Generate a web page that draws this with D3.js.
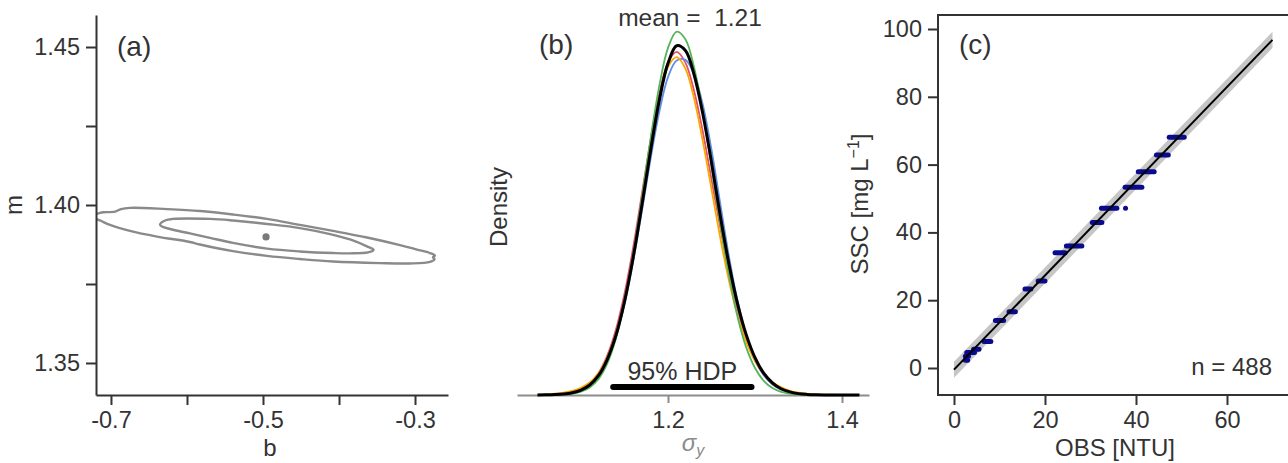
<!DOCTYPE html>
<html>
<head>
<meta charset="utf-8">
<script src="https://cdn.jsdelivr.net/npm/d3@7"></script>
<style>
  html, body { margin: 0; padding: 0; background: #fff; }
  svg { display: block; }
  text { font-family: "Liberation Sans", Arial, sans-serif; fill: #333; }
</style>
</head>
<body>
<svg id="fig" width="1288" height="463"></svg>
<script>
// ---------- (a) joint posterior of intercept b and slope m ----------
const bTicks = [-0.7, -0.6, -0.5, -0.4, -0.3];
const bTickLabels = ["-0.7", "", "-0.5", "", "-0.3"];
const mTicks = [1.35, 1.375, 1.40, 1.425, 1.45];
const mTickLabels = ["1.35", "", "1.40", "", "1.45"];

// outer (95%) contour, [b, m]
const outerContour = [
  [-0.7276, 1.3965], [-0.7211, 1.3970], [-0.7145, 1.3975], [-0.7105, 1.3977],
  [-0.6947, 1.3979], [-0.6868, 1.3987], [-0.6750, 1.3991], [-0.6263, 1.3987],
  [-0.5829, 1.3981], [-0.5395, 1.3970], [-0.4947, 1.3956], [-0.4513, 1.3937],
  [-0.4079, 1.3918], [-0.3632, 1.3897], [-0.3197, 1.3873], [-0.2974, 1.3859],
  [-0.2803, 1.3848], [-0.2737, 1.3840], [-0.2763, 1.3835], [-0.2743, 1.3828],
  [-0.2803, 1.3820], [-0.3066, 1.3815], [-0.3461, 1.3816], [-0.4079, 1.3821],
  [-0.4513, 1.3829], [-0.4947, 1.3839], [-0.5395, 1.3854], [-0.5829, 1.3875],
  [-0.5961, 1.3883], [-0.6395, 1.3900], [-0.6750, 1.3918], [-0.7013, 1.3937],
  [-0.7145, 1.3951], [-0.7211, 1.3957], [-0.7276, 1.3962]
];
// inner (50%) contour, [b, m]
const innerContour = [
  [-0.6355, 1.3938], [-0.6289, 1.3951], [-0.6184, 1.3956], [-0.5697, 1.3956],
  [-0.5395, 1.3951], [-0.4947, 1.3940], [-0.4513, 1.3927], [-0.4118, 1.3908],
  [-0.3855, 1.3891], [-0.3632, 1.3869], [-0.3546, 1.3858], [-0.3618, 1.3850],
  [-0.3855, 1.3847], [-0.4079, 1.3848], [-0.4513, 1.3853], [-0.4947, 1.3862],
  [-0.5395, 1.3880], [-0.5697, 1.3896], [-0.5961, 1.3910], [-0.6224, 1.3924],
  [-0.6329, 1.3932]
];
// posterior mean of (b, m)
const fitIntercept = -0.496;
const fitSlope = 1.3899;

// ---------- (b) posterior density of sigma_y, one curve per chain ----------
const sigmaGrid = [1.05, 1.06, 1.07, 1.08, 1.09, 1.10, 1.11, 1.12, 1.13, 1.14,
  1.15, 1.16, 1.17, 1.18, 1.19, 1.20, 1.21, 1.22, 1.23, 1.24, 1.25, 1.26, 1.27,
  1.28, 1.29, 1.30, 1.31, 1.32, 1.33, 1.34, 1.35, 1.36, 1.37, 1.38, 1.39, 1.40,
  1.41, 1.42];
const densityRed = [0.002, 0.005, 0.013, 0.032, 0.075, 0.16, 0.33, 0.63, 1.13, 1.88,
  2.93, 4.27, 5.82, 7.38, 8.72, 9.63, 9.93, 9.62, 8.80, 7.62, 6.24, 4.86, 3.56,
  2.46, 1.60, 0.99, 0.58, 0.31, 0.16, 0.08, 0.035, 0.015, 0.006, 0.002, 0.001, 0, 0, 0];
const densityGreen = [0.001, 0.002, 0.006, 0.016, 0.042, 0.10, 0.22, 0.46, 0.90, 1.62,
  2.68, 4.06, 5.70, 7.42, 8.95, 10.05, 10.52, 10.30, 9.48, 8.18, 6.62, 4.98, 3.48,
  2.26, 1.37, 0.78, 0.41, 0.20, 0.09, 0.04, 0.016, 0.006, 0.002, 0.001, 0, 0, 0, 0];
const densityBlue = [0.001, 0.003, 0.008, 0.022, 0.055, 0.13, 0.27, 0.53, 0.98, 1.66,
  2.63, 3.88, 5.33, 6.84, 8.20, 9.20, 9.68, 9.70, 9.28, 8.40, 7.10, 5.55, 4.02,
  2.72, 1.72, 1.03, 0.58, 0.31, 0.16, 0.08, 0.035, 0.015, 0.006, 0.002, 0.001, 0, 0, 0];
const densityOrange = [0.01, 0.02, 0.04, 0.07, 0.12, 0.21, 0.36, 0.63, 1.08, 1.76,
  2.74, 4.00, 5.50, 7.08, 8.52, 9.50, 9.78, 9.45, 8.58, 7.35, 5.96, 4.56, 3.32,
  2.30, 1.54, 0.99, 0.62, 0.38, 0.22, 0.12, 0.065, 0.035, 0.02, 0.012, 0.008, 0.005, 0.002, 0];
const densityAll = [0.002, 0.004, 0.011, 0.027, 0.064, 0.14, 0.29, 0.56, 1.02, 1.71,
  2.70, 3.98, 5.49, 7.08, 8.53, 9.60, 10.11, 9.97, 9.27, 8.14, 6.74, 5.20, 3.80,
  2.64, 1.74, 1.08, 0.63, 0.35, 0.18, 0.09, 0.04, 0.018, 0.008, 0.003, 0.001, 0, 0, 0];
const sigmaTicks = [1.2, 1.4];
const sigmaMean = 1.21;
const hdpInterval = [1.137, 1.296];

// ---------- (c) SSC vs OBS calibration ----------
// each group: one lab SSC value with the range of OBS readings paired to it
const groupSSC   = [2.3, 3.5, 4.6, 5.5, 7.8, 14.0, 16.6, 23.3, 25.7, 34.0, 36.0, 42.9, 47.1, 47.1, 53.3, 57.9, 62.8, 68.1];
const groupOBSlo = [2.5, 2.5, 2.8, 4.3, 6.6, 9.1, 12.1, 15.6, 18.5, 22.2, 24.7, 30.4, 32.4, 37.7, 37.6, 40.5, 44.5, 47.3];
const groupOBShi = [3.0, 3.2, 4.5, 5.5, 8.1, 10.9, 13.5, 16.9, 20.0, 24.4, 28.1, 32.5, 35.8, 37.7, 41.3, 44.0, 47.1, 50.6];
const obsTicks = [0, 20, 40, 60];
const sscTicks = [0, 20, 40, 60, 80, 100];
const fitRange = [0, 70];
const predHalfWidth = 2.37;   // 1.96 * sigma_y
const sampleSize = 488;

// ======================================================================
const svg = d3.select("#fig");
const TICK_FONT = 23.5;

function styleAxis(g, color) {
  g.selectAll("path.domain").attr("stroke", color).attr("stroke-width", 2);
  g.selectAll(".tick line").attr("stroke", color).attr("stroke-width", 2);
  g.selectAll(".tick text")
    .attr("font-family", "Liberation Sans, Arial, sans-serif")
    .attr("font-size", TICK_FONT)
    .attr("fill", color);
}

// ---------------- panel (a) ----------------
const xA = d3.scaleLinear().domain([-0.7197, -0.2566]).range([96, 448]);
const yA = d3.scaleLinear().domain([1.33987, 1.46013]).range([395, 15]);

const clipA = svg.append("clipPath").attr("id", "clipA");
clipA.append("rect").attr("x", 96).attr("y", 15).attr("width", 352).attr("height", 380);

const lineA = d3.line().x(d => xA(d[0])).y(d => yA(d[1]));
const pa = svg.append("g").attr("clip-path", "url(#clipA)");
pa.append("path").datum(outerContour)
  .attr("d", lineA.curve(d3.curveCatmullRomClosed.alpha(0.5)))
  .attr("fill", "none").attr("stroke", "#8a8a8a").attr("stroke-width", 2.4);
pa.append("path").datum(innerContour)
  .attr("d", lineA.curve(d3.curveCatmullRomClosed.alpha(0.5)))
  .attr("fill", "none").attr("stroke", "#8a8a8a").attr("stroke-width", 2.4);
pa.append("circle").attr("cx", xA(fitIntercept)).attr("cy", yA(fitSlope))
  .attr("r", 3.6).attr("fill", "#7a7a7a");

const axLeftA = svg.append("g").attr("transform", "translate(96,0)")
  .call(d3.axisLeft(yA).tickValues(mTicks)
    .tickFormat((d, i) => mTickLabels[i]).tickSize(10).tickSizeOuter(0).tickPadding(6));
styleAxis(axLeftA, "#333");
const axBotA = svg.append("g").attr("transform", "translate(0,395)")
  .call(d3.axisBottom(xA).tickValues(bTicks)
    .tickFormat((d, i) => bTickLabels[i]).tickSize(10).tickSizeOuter(0).tickPadding(6));
styleAxis(axBotA, "#333");

svg.append("text").attr("x", 117).attr("y", 56)
  .attr("font-family", "DejaVu Sans").attr("font-size", 28).text("(a)");
svg.append("text").attr("x", 270).attr("y", 456).attr("text-anchor", "middle")
  .attr("font-size", 24).text("b");
svg.append("text").attr("transform", "translate(22,205) rotate(-90)")
  .attr("text-anchor", "middle").attr("font-size", 24).text("m");

// ---------------- panel (b) ----------------
const xB = d3.scaleLinear().domain([1.02644, 1.43103]).range([517, 869]);
const yB = d3.scaleLinear().domain([0, 11]).range([395, 15]);

const axBotB = svg.append("g").attr("transform", "translate(0,395)")
  .call(d3.axisBottom(xB).tickValues(sigmaTicks).tickFormat(d3.format(".1f"))
    .tickSize(8).tickSizeOuter(0).tickPadding(8));
styleAxis(axBotB, "#8c8c8c");

const lineB = d3.line().curve(d3.curveCatmullRom.alpha(0.5))
  .x((d, i) => xB(sigmaGrid[i])).y(d => yB(d));
const chains = [
  { v: densityRed, c: "#DF536B" },
  { v: densityBlue, c: "#5E8FE6" },
  { v: densityOrange, c: "#FFA500" },
  { v: densityGreen, c: "#55B45A" }
];
chains.forEach(ch => {
  svg.append("path").datum(ch.v).attr("d", lineB)
    .attr("fill", "none").attr("stroke", ch.c).attr("stroke-width", 1.8);
});
svg.append("path").datum(densityAll).attr("d", lineB)
  .attr("fill", "none").attr("stroke", "#000").attr("stroke-width", 3);

svg.append("line")
  .attr("x1", xB(hdpInterval[0])).attr("x2", xB(hdpInterval[1]))
  .attr("y1", 387).attr("y2", 387)
  .attr("stroke", "#000").attr("stroke-width", 6).attr("stroke-linecap", "round");
svg.append("text").attr("x", xB((hdpInterval[0] + hdpInterval[1]) / 2)).attr("y", 380)
  .attr("text-anchor", "middle").attr("font-size", 25).text("95% HDP");

svg.append("text").attr("x", 690).attr("y", 26).attr("text-anchor", "middle")
  .attr("font-size", 24.5).style("white-space", "pre")
  .text("mean =  " + d3.format(".2f")(sigmaMean));
svg.append("text").attr("x", 539).attr("y", 54)
  .attr("font-family", "DejaVu Sans").attr("font-size", 28).text("(b)");
svg.append("text").attr("transform", "translate(507,207) rotate(-90)")
  .attr("text-anchor", "middle").attr("font-size", 24).text("Density");
const sigLab = svg.append("text").attr("x", 693).attr("y", 451).attr("text-anchor", "middle")
  .attr("font-size", 24);
sigLab.append("tspan").attr("font-style", "italic").attr("fill", "#8c8c8c").text("σ");
sigLab.append("tspan").attr("font-style", "italic").attr("fill", "#8c8c8c")
  .attr("font-size", 16).attr("dy", 5).text("y");

// ---------------- panel (c) ----------------
const xC = d3.scaleLinear().domain([-3.516, 73.41]).range([938, 1288]);
const yC = d3.scaleLinear().domain([-7.965, 104.13]).range([395, 15]);

const band = d3.area()
  .x(d => xC(d))
  .y0(d => yC(fitIntercept + fitSlope * d - predHalfWidth))
  .y1(d => yC(fitIntercept + fitSlope * d + predHalfWidth));
svg.append("path").datum(fitRange).attr("d", band).attr("fill", "#c6c6c6");

const groups = groupSSC.map((s, i) => ({ s, lo: groupOBSlo[i], hi: groupOBShi[i] }));
svg.append("g").selectAll("line").data(groups).join("line")
  .attr("x1", d => xC(d.lo)).attr("x2", d => xC(d.hi))
  .attr("y1", d => yC(d.s)).attr("y2", d => yC(d.s))
  .attr("stroke", "#0a0a8c").attr("stroke-width", 5).attr("stroke-linecap", "round");

svg.append("path").datum(fitRange)
  .attr("d", d3.line().x(d => xC(d)).y(d => yC(fitIntercept + fitSlope * d)))
  .attr("stroke", "#000").attr("stroke-width", 2).attr("fill", "none");

// frame (left, top, bottom)
svg.append("path")
  .attr("d", `M1292,${yC.range()[1]}H938V${yC.range()[0]}H1292`)
  .attr("fill", "none").attr("stroke", "#333").attr("stroke-width", 2);

const axLeftC = svg.append("g").attr("transform", "translate(938,0)")
  .call(d3.axisLeft(yC).tickValues(sscTicks).tickSize(10).tickSizeOuter(0).tickPadding(6));
styleAxis(axLeftC, "#333");
axLeftC.select("path.domain").remove();
const axBotC = svg.append("g").attr("transform", "translate(0,395)")
  .call(d3.axisBottom(xC).tickValues(obsTicks).tickSize(10).tickSizeOuter(0).tickPadding(6));
styleAxis(axBotC, "#333");
axBotC.select("path.domain").remove();

svg.append("text").attr("x", 959).attr("y", 54)
  .attr("font-family", "DejaVu Sans").attr("font-size", 28).text("(c)");
svg.append("text").attr("x", 1272).attr("y", 375).attr("text-anchor", "end")
  .attr("font-size", 24).text("n = " + sampleSize);
svg.append("text").attr("x", 1115).attr("y", 456).attr("text-anchor", "middle")
  .attr("font-size", 24).text("OBS [NTU]");
const sscLab = svg.append("text").attr("transform", "translate(868,204) rotate(-90)")
  .attr("text-anchor", "middle").attr("font-size", 24);
sscLab.append("tspan").text("SSC [mg L");
sscLab.append("tspan").attr("font-size", 16).attr("dy", -9).text("−1");
sscLab.append("tspan").attr("dy", 9).text("]");
</script>
</body>
</html>
